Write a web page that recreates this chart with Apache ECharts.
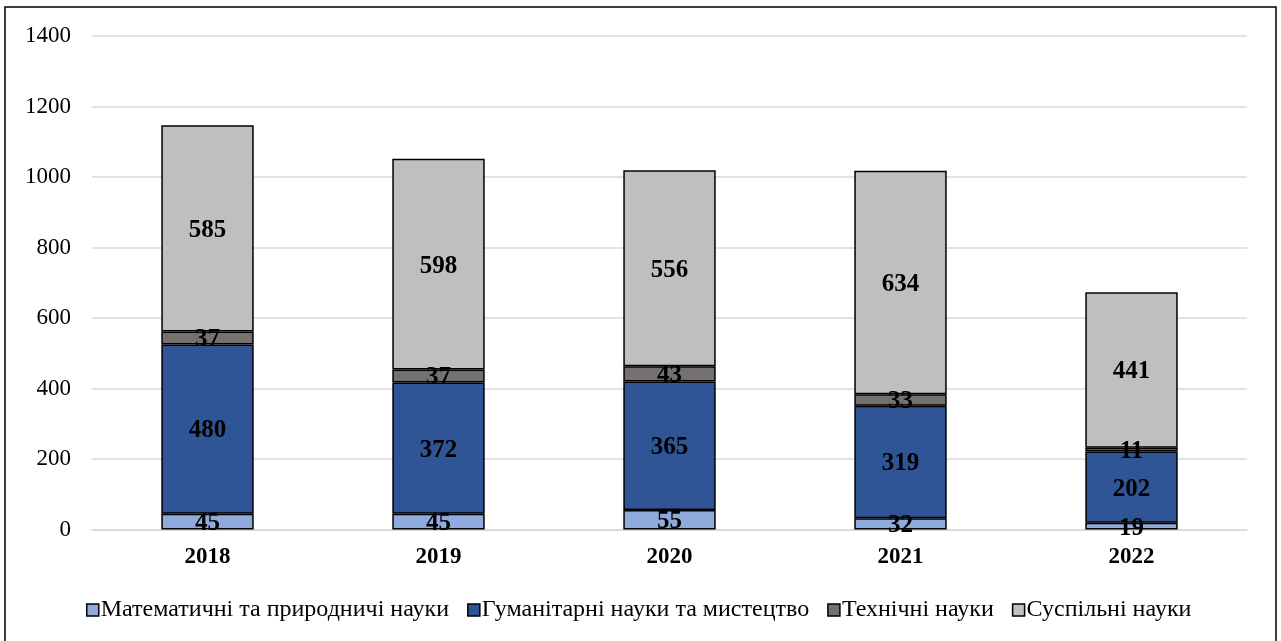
<!DOCTYPE html>
<html>
<head>
<meta charset="utf-8">
<script src="https://cdn.jsdelivr.net/npm/echarts@6/dist/echarts.min.js"></script>
<style>html,body{margin:0;padding:0;background:#fff}#c{width:1281px;height:641px}</style>
</head>
<body>
<div id="c"></div>
<script>
const categories = ['2018', '2019', '2020', '2021', '2022'];
const seriesNames = ['Математичні та природничі науки', 'Гуманітарні науки та мистецтво', 'Технічні науки', 'Суспільні науки'];
const mathSci = [45, 45, 55, 32, 19];
const humanities = [480, 372, 365, 319, 202];
const technical = [37, 37, 43, 33, 11];
const social = [585, 598, 556, 634, 441];
const colors = ['#8faadc', '#2f5597', '#767171', '#bfbfbf'];
const yTicks = [0, 200, 400, 600, 800, 1000, 1200, 1400];

const values = [mathSci, humanities, technical, social];
const font = '"Liberation Serif", "Times New Roman", serif';

const chart = echarts.init(document.getElementById('c'), null, {renderer: 'canvas'});
chart.setOption({
  animation: false,
  textStyle: {fontFamily: font},
  grid: {left: 92, right: 34, top: 36, bottom: 111.5, containLabel: false},
  graphic: [{
    type: 'rect', shape: {x: 5, y: 7, width: 1271, height: 640},
    style: {fill: 'none', stroke: '#000', lineWidth: 1.5}, z: -1
  }],
  legend: {
    left: 81, top: 593, itemWidth: 12, itemHeight: 12, itemGap: 18,
    icon: 'rect',
    textStyle: {fontFamily: font, fontSize: 24, color: '#000', padding: [0, 0, 0, -3]},
    itemStyle: {borderColor: '#000', borderWidth: 1.5},
    data: seriesNames
  },
  xAxis: {
    type: 'category', data: categories,
    axisLine: {show: true, lineStyle: {color: '#d9d9d9', width: 1.5}},
    axisTick: {show: false},
    axisLabel: {fontFamily: font, fontSize: 23, fontWeight: 'bold', color: '#000', margin: 16}
  },
  yAxis: {
    type: 'value', min: yTicks[0], max: yTicks[yTicks.length - 1], interval: 200,
    axisLine: {show: false}, axisTick: {show: false},
    axisLabel: {fontFamily: font, fontSize: 23, color: '#000', margin: 21, formatter: v => String(v)},
    splitLine: {lineStyle: {color: '#d9d9d9', width: 1.5}}
  },
  series: seriesNames.map((name, i) => ({
    name, type: 'bar', stack: 'total', data: values[i],
    barCategoryGap: '60%',
    itemStyle: {color: colors[i], borderColor: '#000', borderWidth: 1.5},
    label: {show: true, position: 'inside', offset: [0, 2], fontFamily: font, fontSize: 25, fontWeight: 'bold', color: '#000'}
  }))
});
</script>
</body>
</html>
